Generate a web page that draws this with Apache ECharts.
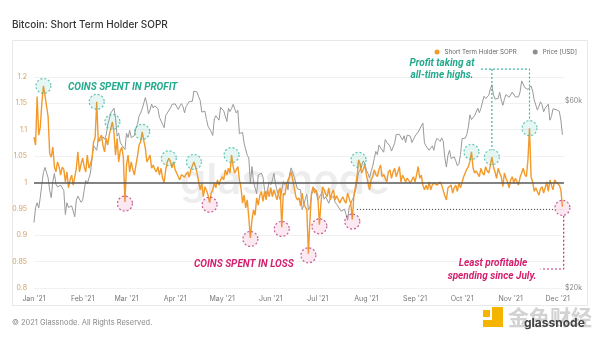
<!DOCTYPE html>
<html><head><meta charset="utf-8">
<script src="https://cdn.jsdelivr.net/npm/echarts@6/dist/echarts.min.js"></script>
<style>html,body{margin:0;padding:0;background:#fff}#c{width:600px;height:338px}</style>
</head><body><div id="c"></div>
<script>
// ---- data (daily, starting 2021-01-01) ----
const startDate = '2021-01-01';
const monthLabels = ["Jan '21","Feb '21","Mar '21","Apr '21","May '21","Jun '21","Jul '21","Aug '21","Sep '21","Oct '21","Nov '21","Dec '21"];
const soprTicks = [0.8,0.85,0.9,0.95,1,1.05,1.1,1.15,1.2];
const priceTicks = [20000,60000];
const soprValues = [
// Jan
1.086,1.071,1.163,1.090,1.105,1.150,1.183,1.165,1.145,1.125,1.055,1.048,1.067,1.030,1.020,1.039,1.030,1.014,1.029,1.025,1.001,1.020,0.990,1.005,1.014,0.995,1.010,1.027,1.058,1.020,1.035,
// Feb
1.046,1.030,1.020,1.052,1.027,1.035,1.046,1.077,1.085,1.153,1.077,1.080,1.090,1.070,1.058,1.084,1.071,1.090,1.103,1.115,1.094,1.052,1.084,1.039,1.060,1.067,1.046,0.963,
// Mar
1.033,1.052,1.020,1.039,1.025,1.014,1.033,1.050,1.071,1.077,1.096,1.080,1.065,1.039,1.045,1.052,1.027,1.033,1.025,1.020,1.030,1.014,1.027,1.008,1.000,1.024,1.039,1.046,1.040,1.028,1.039,
// Apr
1.024,1.018,1.011,1.005,1.015,1.018,1.010,1.016,1.020,1.010,1.024,1.025,1.039,1.030,1.018,1.001,0.986,0.999,0.973,0.992,0.985,0.976,0.962,0.980,0.986,0.999,0.990,1.005,0.995,1.005,
// May
1.011,1.005,1.024,1.014,1.027,1.018,1.052,1.030,1.018,1.024,1.030,1.005,0.990,0.961,0.976,0.952,0.967,0.933,0.895,0.929,0.948,0.938,0.971,0.957,0.975,0.983,0.964,0.983,0.967,0.986,0.973,
// Jun
0.990,0.973,0.986,0.983,0.967,0.983,0.990,0.915,0.980,0.976,0.995,1.005,1.011,1.020,1.005,0.990,0.973,0.967,0.971,0.955,0.980,0.960,0.954,0.948,0.865,0.930,0.980,0.992,0.980,0.986,
// Jul
0.975,0.920,0.960,0.992,0.986,0.978,0.973,0.990,0.967,0.980,0.986,0.967,0.975,0.973,0.961,0.968,0.973,0.965,0.961,0.980,0.970,0.960,0.930,0.975,0.992,1.011,1.043,1.035,1.018,1.025,1.033,
// Aug
1.014,1.000,0.986,1.005,1.011,1.024,1.015,1.011,1.025,1.033,1.011,1.015,1.018,1.001,1.020,1.024,1.008,1.020,1.027,1.011,1.020,1.030,1.001,1.014,1.008,1.001,1.008,1.004,0.999,1.005,1.011,
// Sep
1.001,1.015,1.030,1.008,1.014,0.995,0.986,0.995,0.986,1.001,0.986,0.995,0.999,1.001,0.995,0.998,1.001,0.995,0.992,0.975,0.967,0.990,0.993,0.995,0.980,0.990,0.995,0.983,0.999,0.990,
// Oct
1.000,1.011,1.018,1.025,1.030,1.040,1.058,1.028,1.018,1.022,1.020,1.011,1.027,1.018,1.014,1.030,1.022,1.018,1.032,1.048,1.030,1.020,1.008,1.027,1.018,1.011,0.992,1.018,1.008,1.001,0.990,
// Nov
1.005,1.011,0.999,1.008,1.002,0.995,1.010,1.018,1.027,1.015,1.011,1.043,1.103,1.011,1.001,0.983,0.990,0.992,0.976,0.988,0.992,0.980,0.990,1.001,0.983,1.005,0.995,0.986,1.005,1.001,
// Dec
0.998,0.995,0.986,0.954
];
const priceK = [
// Jan
29.4,32.1,33.0,32.0,34.0,36.8,39.4,40.6,40.2,38.2,35.5,34.0,37.4,39.2,36.8,36.2,35.8,36.6,36.0,35.5,30.8,33.0,32.1,32.3,32.4,32.6,30.4,33.5,34.3,34.3,33.1,
// Feb
33.5,35.5,37.6,36.9,38.1,39.3,38.9,46.2,46.5,44.9,48.0,47.4,47.2,48.6,47.9,49.1,52.1,51.6,55.9,55.9,57.5,54.2,48.8,49.7,47.1,46.3,46.2,45.1,
// Mar
49.6,48.4,50.5,48.4,48.9,48.9,51.2,52.3,54.9,55.9,57.3,57.2,61.2,59.0,55.6,56.9,58.9,57.6,58.3,58.1,57.4,54.5,54.3,52.3,51.3,55.1,55.9,55.8,57.6,58.8,58.9,
// Apr
59.0,59.0,57.1,58.2,59.1,58.0,56.0,58.1,58.1,59.8,60.0,59.9,63.6,62.9,63.2,61.5,60.1,56.2,55.7,56.5,53.8,51.7,51.1,50.1,49.0,54.0,55.0,54.8,53.6,57.8,
// May
57.8,56.6,57.2,53.2,57.5,56.4,57.4,58.8,58.2,55.9,56.8,49.5,49.7,49.9,46.8,46.4,43.6,42.9,37.0,40.8,37.3,37.5,34.8,38.8,38.4,39.3,38.4,35.7,34.6,35.7,37.3,
// Jun
36.7,37.6,39.2,36.9,35.5,35.8,33.6,33.4,37.4,36.7,37.3,35.6,39.1,40.5,40.2,38.3,38.1,35.8,35.5,35.6,31.7,32.5,33.7,34.7,31.6,32.2,34.7,34.4,35.9,35.0,
// Jul
33.5,33.8,34.7,35.3,33.7,34.2,33.9,32.9,33.8,33.5,34.3,33.1,32.7,32.8,31.8,31.4,31.5,31.8,30.8,29.8,32.1,32.3,33.6,34.3,35.4,37.3,39.4,40.0,40.0,42.2,41.6,
// Aug
39.9,39.2,38.2,39.7,40.9,42.8,44.6,43.8,46.3,45.6,45.6,44.4,47.8,47.1,47.0,46.0,44.7,44.7,46.8,49.3,48.9,49.3,49.5,47.7,48.9,47.0,49.1,48.9,48.8,47.0,47.2,
// Sep
48.8,49.3,50.0,49.9,51.8,52.7,46.9,46.1,46.4,44.9,45.2,46.1,44.9,47.1,48.2,47.8,47.3,48.3,47.3,43.0,40.7,43.6,44.9,42.8,42.7,43.2,42.2,41.0,41.5,43.8,
// Oct
48.1,47.7,48.2,49.2,51.5,55.3,53.8,53.9,55.0,54.7,57.5,56.0,57.4,57.4,61.7,60.9,61.5,62.0,64.3,66.0,62.2,60.7,61.4,60.9,63.1,60.3,58.5,60.6,62.3,61.9,61.3,
// Nov
61.0,63.2,62.9,61.4,61.0,61.5,63.3,67.5,66.9,64.9,64.9,64.2,64.5,65.5,63.6,60.4,60.4,56.9,58.1,59.7,58.7,56.3,57.5,57.1,58.9,53.6,54.8,57.3,57.8,57.0,
// Dec
57.2,56.5,53.6,49.2
];
// annotation markers: [day index from start, SOPR value]
const profitCircles = [[6,1.183],[40,1.153],[50,1.115],[69,1.096],[86,1.046],[102,1.039],[126,1.052],[207,1.043],[279,1.058],[292,1.048],[316,1.103]];
const lossCircles = [[58,0.960],[112,0.958],[138,0.893],[158,0.912],[175,0.862],[182,0.917],[203,0.926],[337,0.952]];
const lowRefLine = [[206,0.949],[331,0.949]];
const athGuideA = [[285,1.215],[316,1.215],[316,1.117]];
const athGuideB = [[292,1.215],[292,1.062]];
const lossGuide = [[337.8,0.937],[337.8,0.836],[323,0.836]];

// ---- build ----
const DAY = 86400000;
const t0 = Date.parse(startDate + 'T00:00:00Z');
// x axis is measured in days since startDate
const monthStartDays = monthLabels.map((_, m) => Math.round((Date.UTC(2021, m, 1) - t0) / DAY));
const dayLabel = d => monthLabels[monthStartDays.indexOf(Math.round(d))] || '';

const teal = '#23a98c', pink = '#d4206f';
const chart = echarts.init(document.getElementById('c'), null, {renderer: 'canvas'});
const guide = (data, color, type, w) => ({
  type: 'line', data: data, showSymbol: false, symbol: 'none', clip: false, silent: true,
  lineStyle: {color, width: w || 1.2, type}, z: 4, legendHoverLink: false
});
const txt = (text, x, y, font, fill, align) => ({
  type: 'text', x, y, z: 20, silent: true,
  style: {text, font, fill, align: align || 'left', verticalAlign: 'middle'}
});

chart.setOption({
  animation: false,
  backgroundColor: '#fff',
  title: {text: 'Bitcoin: Short Term Holder SOPR', left: 7, top: 15,
    textStyle: {fontSize: 10, fontWeight: 500, color: '#333', fontFamily: 'Inter'}},
  legend: {
    data: ['Short Term Holder SOPR', 'Price [USD]'], right: 18, top: 44,
    icon: 'circle', itemWidth: 5, itemHeight: 5, itemGap: 16,
    textStyle: {fontSize: 6.2, color: '#666', fontFamily: 'Inter'}
  },
  grid: {left: 34, right: 36, top: 77, bottom: 50, containLabel: false},
  xAxis: {
    type: 'value', min: 0, max: 338,
    axisLine: {show: false}, axisTick: {show: false}, splitLine: {show: false},
    axisLabel: {customValues: monthStartDays, fontSize: 7, color: '#777', margin: 7, fontFamily: 'Inter',
      formatter: v => dayLabel(v)}
  },
  yAxis: [{
    type: 'value', min: soprTicks[0], max: soprTicks[soprTicks.length - 1], interval: 0.05,
    axisLine: {show: false}, axisTick: {show: false},
    splitLine: {lineStyle: {color: '#f1f1f1', width: 1}},
    axisLabel: {fontSize: 7, color: '#d2a062', margin: 7, fontFamily: 'Inter',
      formatter: v => String(+(+v).toFixed(2))}
  }, {
    type: 'log', logBase: 10, min: 20000, max: 69070, position: 'right',
    axisLine: {show: false}, axisTick: {show: false}, splitLine: {show: false},
    axisLabel: {customValues: priceTicks, fontSize: 7, color: '#888', margin: 1, fontFamily: 'Inter',
      formatter: v => '$' + Math.round(v / 1000) + 'k'}
  }],
  graphic: [
    {type: 'rect', z: -10, silent: true, shape: {x: 12.5, y: 40.5, width: 575, height: 265},
      style: {fill: 'none', stroke: '#e8e8e8', lineWidth: 1}},
    {type: 'text', z: -5, x: 285, y: 181, silent: true,
      style: {text: 'glassnode', font: '600 42px Inter', fill: 'rgba(0,0,0,0.07)', align: 'center', verticalAlign: 'middle'}},
    txt('COINS SPENT IN PROFIT', 68, 87, 'italic bold 10px Roboto', teal),
    txt('COINS SPENT IN LOSS', 194, 264, 'italic bold 10px Roboto', pink),
    txt('Profit taking at', 442, 63, 'italic bold 10px Roboto', teal, 'center'),
    txt('all-time highs.', 442, 75, 'italic bold 10px Roboto', teal, 'center'),
    txt('Least profitable', 493, 263, 'italic bold 10px Roboto', pink, 'center'),
    txt('spending since July.', 492, 276, 'italic bold 10px Roboto', pink, 'center'),
    txt('\u00a9 2021 Glassnode. All Rights Reserved.', 12, 323, '7.5px Inter', '#8a8a8a'),
    {type: 'rect', silent: true, shape: {x: 492, y: 307, width: 11, height: 20}, style: {fill: '#f5b400'}},
    {type: 'rect', silent: true, shape: {x: 483, y: 320, width: 20, height: 7}, style: {fill: '#f5b400'}},
    {type: 'rect', silent: true, shape: {x: 483, y: 310, width: 7, height: 7}, style: {fill: '#f5b400'}},
    txt('金色财经', 508, 317, 'bold 21px "Noto Sans CJK SC"', '#d2d2d2'),
    txt('glassnode', 524, 323, 'bold 12px Inter', '#444')
  ],
  series: [
    {name: 'Price [USD]', type: 'line', yAxisIndex: 1, data: priceK.map((v, i) => [i, v * 1000]),
      showSymbol: false, symbol: 'none', color: '#8e8e8e', lineStyle: {width: 1, color: '#9a9a9a'}, z: 2},
    {name: 'Short Term Holder SOPR', type: 'line', yAxisIndex: 0, data: soprValues.map((v, i) => [i, v]),
      showSymbol: false, symbol: 'none', color: '#f39a2a', lineStyle: {width: 1.4, color: '#f39a2a'}, z: 3,
      markLine: {silent: true, symbol: 'none', label: {show: false},
        lineStyle: {color: '#5a5a5a', width: 1.6, type: 'solid'}, data: [{yAxis: 1}]}},
    guide(lowRefLine, '#444', [1, 2], 1),
    guide(athGuideA, '#3db5a3', [2, 2]),
    guide(athGuideB, '#3db5a3', [2, 2]),
    guide(lossGuide, '#c42d78', [2, 2]),
    {type: 'scatter', data: profitCircles, symbol: 'circle', symbolSize: 15, silent: true, z: 5,
      itemStyle: {color: 'rgba(60,185,165,0.16)', borderColor: '#3db5a3', borderWidth: 1.2, borderType: [2, 2]}},
    {type: 'scatter', data: lossCircles, symbol: 'circle', symbolSize: 15, silent: true, z: 5,
      itemStyle: {color: 'rgba(225,80,150,0.16)', borderColor: '#b8387f', borderWidth: 1.2, borderType: [2, 2]}}
  ]
});
</script></body></html>
